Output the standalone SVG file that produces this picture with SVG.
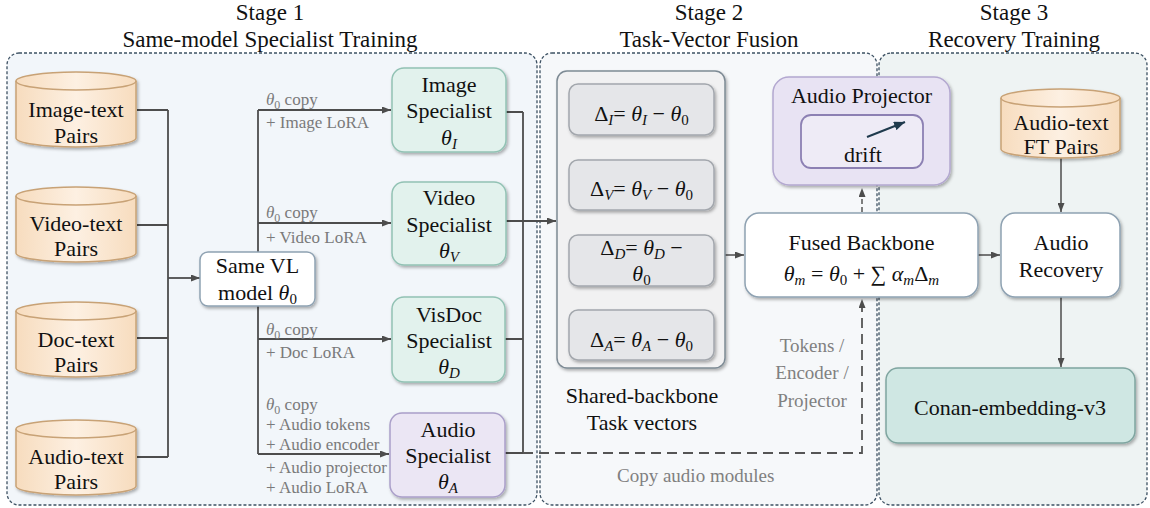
<svg xmlns="http://www.w3.org/2000/svg" width="1150" height="508" viewBox="0 0 1150 508">
<defs>
<linearGradient id="peach" x1="0" x2="1" y1="0" y2="0">
<stop offset="0" stop-color="#f7dcbe"/><stop offset="0.5" stop-color="#fdf0e2"/><stop offset="1" stop-color="#f7dcbe"/>
</linearGradient>
<filter id="sh" x="-10%" y="-10%" width="125%" height="130%">
<feDropShadow dx="1.5" dy="2" stdDeviation="1.5" flood-color="#000" flood-opacity="0.3"/>
</filter>
<marker id="ar" markerUnits="userSpaceOnUse" markerWidth="9" markerHeight="7" refX="9" refY="3.5" orient="auto">
<path d="M0,0 L9,3.5 L0,7 z" fill="#4d4d4d"/>
</marker>
<marker id="arn" markerUnits="userSpaceOnUse" markerWidth="11" markerHeight="9" refX="11" refY="4.5" orient="auto">
<path d="M0,0 L11,4.5 L0,9 z" fill="#1f3a4d"/>
</marker>
</defs>
<g id="panels" stroke="#3d5163" stroke-width="1.3" stroke-dasharray="3 2">
<rect x="7" y="53" width="530" height="452" rx="12" fill="#f2f6fa"/>
<rect x="540" y="53" width="337" height="452" rx="12" fill="#f6f8fa"/>
<rect x="879" y="53" width="268" height="452" rx="12" fill="#eef3f3"/>
</g>
<g id="titles" font-size="23" fill="#111" text-anchor="middle">
<text font-family="Liberation Serif" x="270" y="20">Stage 1</text>
<text font-family="Liberation Serif" x="270" y="47">Same-model Specialist Training</text>
<text font-family="Liberation Serif" x="709" y="20">Stage 2</text>
<text font-family="Liberation Serif" x="709" y="47">Task-Vector Fusion</text>
<text font-family="Liberation Serif" x="1014" y="20">Stage 3</text>
<text font-family="Liberation Serif" x="1014" y="47">Recovery Training</text>
</g>
<g id="connectors" fill="none" stroke="#4d4d4d" stroke-width="1.8">
<path d="M137,110 H168 M137,225 H168 M137,338 H168 M137,457 H168 M168,110 V457"/>
<path d="M168,278 H200" marker-end="url(#ar)"/>
<path d="M258,110 V454"/>
<path d="M258,110 H391" marker-end="url(#ar)"/>
<path d="M258,223 H391" marker-end="url(#ar)"/>
<path d="M258,339 H391" marker-end="url(#ar)"/>
<path d="M258,454 H389" marker-end="url(#ar)"/>
<path d="M506,112 H523 M505,339 H523 M505,453 H523 M523,112 V453"/>
<path d="M506,221 H556" marker-end="url(#ar)"/>
<path d="M725,255 H744" stroke-width="1.5" marker-end="url(#ar)"/>
<path d="M978,255 H1000" stroke-width="1.5" marker-end="url(#ar)"/>
<path d="M1061,158 V212" stroke-width="1.5" marker-end="url(#ar)"/>
<path d="M1061,297 V367" stroke-width="1.5" marker-end="url(#ar)"/>
<path d="M523,453 H862 V299" stroke="#555" stroke-dasharray="10 6" marker-end="url(#ar)"/>
<path d="M862,212 V188" stroke="#555" stroke-width="1.5" stroke-dasharray="5 3" marker-end="url(#ar)"/>
</g>
<g id="edge-labels" font-size="17" fill="#7a7a7a">
<text font-family="Liberation Serif" x="266" y="105"><tspan font-style="italic">θ</tspan><tspan font-size="12" dy="4">0</tspan><tspan dy="-4"> copy</tspan></text>
<text font-family="Liberation Serif" x="266" y="128">+ Image LoRA</text>
<text font-family="Liberation Serif" x="266" y="218"><tspan font-style="italic">θ</tspan><tspan font-size="12" dy="4">0</tspan><tspan dy="-4"> copy</tspan></text>
<text font-family="Liberation Serif" x="266" y="243">+ Video LoRA</text>
<text font-family="Liberation Serif" x="266" y="335"><tspan font-style="italic">θ</tspan><tspan font-size="12" dy="4">0</tspan><tspan dy="-4"> copy</tspan></text>
<text font-family="Liberation Serif" x="266" y="358">+ Doc LoRA</text>
<text font-family="Liberation Serif" x="266" y="410"><tspan font-style="italic">θ</tspan><tspan font-size="12" dy="4">0</tspan><tspan dy="-4"> copy</tspan></text>
<text font-family="Liberation Serif" x="266" y="430">+ Audio tokens</text>
<text font-family="Liberation Serif" x="266" y="450">+ Audio encoder</text>
<text font-family="Liberation Serif" x="266" y="473">+ Audio projector</text>
<text font-family="Liberation Serif" x="266" y="493">+ Audio LoRA</text>
<text font-family="Liberation Serif" x="617" y="482" font-size="19" fill="#808080">Copy audio modules</text>
<text font-family="Liberation Serif" x="812" y="352" font-size="19" fill="#808080" text-anchor="middle">Tokens /</text>
<text font-family="Liberation Serif" x="812" y="379" font-size="19" fill="#808080" text-anchor="middle">Encoder /</text>
<text font-family="Liberation Serif" x="812" y="407" font-size="19" fill="#808080" text-anchor="middle">Projector</text>
</g>
<g id="nodes" font-size="22" fill="#111" text-anchor="middle">
<g id="image-text-pairs">
<g filter="url(#sh)" fill="url(#peach)" stroke="#c8a276" stroke-width="1.5">
<path d="M16,81 A60,9 0 0 1 136,81 V138 A60,9 0 0 1 16,138 Z"/>
<path fill="none" d="M16,81 A60,9 0 0 0 136,81"/>
</g>
<text font-family="Liberation Serif" x="76" y="117">Image-text</text>
<text font-family="Liberation Serif" x="76" y="143">Pairs</text>
</g>
<g id="video-text-pairs">
<g filter="url(#sh)" fill="url(#peach)" stroke="#c8a276" stroke-width="1.5">
<path d="M16,196 A60,9 0 0 1 136,196 V253 A60,9 0 0 1 16,253 Z"/>
<path fill="none" d="M16,196 A60,9 0 0 0 136,196"/>
</g>
<text font-family="Liberation Serif" x="76" y="231">Video-text</text>
<text font-family="Liberation Serif" x="76" y="256">Pairs</text>
</g>
<g id="doc-text-pairs">
<g filter="url(#sh)" fill="url(#peach)" stroke="#c8a276" stroke-width="1.5">
<path d="M16,311 A60,9 0 0 1 136,311 V368 A60,9 0 0 1 16,368 Z"/>
<path fill="none" d="M16,311 A60,9 0 0 0 136,311"/>
</g>
<text font-family="Liberation Serif" x="76" y="347">Doc-text</text>
<text font-family="Liberation Serif" x="76" y="372">Pairs</text>
</g>
<g id="audio-text-pairs">
<g filter="url(#sh)" fill="url(#peach)" stroke="#c8a276" stroke-width="1.5">
<path d="M16,429 A60,9 0 0 1 136,429 V486 A60,9 0 0 1 16,486 Z"/>
<path fill="none" d="M16,429 A60,9 0 0 0 136,429"/>
</g>
<text font-family="Liberation Serif" x="76" y="464">Audio-text</text>
<text font-family="Liberation Serif" x="76" y="489">Pairs</text>
</g>
<g id="same-vl">
<rect x="200" y="252" width="115" height="54" rx="8" fill="#fff" stroke="#8fa2b2" stroke-width="1.5" filter="url(#sh)"/>
<text font-family="Liberation Serif" x="257.5" y="273">Same VL</text>
<text font-family="Liberation Serif" x="257.5" y="300">model <tspan font-style="italic">θ</tspan><tspan font-size="15" dy="4">0</tspan></text>
</g>
<g id="image-specialist">
<rect x="392" y="68" width="114" height="84" rx="12" fill="#e2f2ed" stroke="#92c2b4" stroke-width="1.5" filter="url(#sh)"/>
<text font-family="Liberation Serif" x="449" y="92">Image</text>
<text font-family="Liberation Serif" x="449" y="118">Specialist</text>
<text font-family="Liberation Serif" x="449" y="145"><tspan font-style="italic">θ</tspan><tspan font-style="italic" font-size="15" dy="4">I</tspan></text>
</g>
<g id="video-specialist">
<rect x="392" y="182" width="114" height="83" rx="12" fill="#e2f2ed" stroke="#92c2b4" stroke-width="1.5" filter="url(#sh)"/>
<text font-family="Liberation Serif" x="449" y="205">Video</text>
<text font-family="Liberation Serif" x="449" y="232">Specialist</text>
<text font-family="Liberation Serif" x="449" y="258"><tspan font-style="italic">θ</tspan><tspan font-style="italic" font-size="15" dy="4">V</tspan></text>
</g>
<g id="visdoc-specialist">
<rect x="392" y="297" width="113" height="85" rx="12" fill="#e2f2ed" stroke="#92c2b4" stroke-width="1.5" filter="url(#sh)"/>
<text font-family="Liberation Serif" x="449" y="322">VisDoc</text>
<text font-family="Liberation Serif" x="449" y="348">Specialist</text>
<text font-family="Liberation Serif" x="449" y="374"><tspan font-style="italic">θ</tspan><tspan font-style="italic" font-size="15" dy="4">D</tspan></text>
</g>
<g id="audio-specialist">
<rect x="390" y="413" width="115" height="84" rx="12" fill="#ebe6f4" stroke="#aa9fc9" stroke-width="1.5" filter="url(#sh)"/>
<text font-family="Liberation Serif" x="448" y="437">Audio</text>
<text font-family="Liberation Serif" x="448" y="463">Specialist</text>
<text font-family="Liberation Serif" x="448" y="489"><tspan font-style="italic">θ</tspan><tspan font-style="italic" font-size="15" dy="4">A</tspan></text>
</g>
<g id="task-vectors">
<rect x="557" y="71" width="168" height="297" rx="10" fill="#f1f1f2" stroke="#7d8a94" stroke-width="1.5" filter="url(#sh)"/>
<g fill="#e5e6e9" stroke="#a3a7ad" stroke-width="1.5" filter="url(#sh)">
<rect x="569" y="84" width="145" height="51" rx="9"/>
<rect x="569" y="160" width="145" height="50" rx="9"/>
<rect x="569" y="235" width="145" height="51" rx="9"/>
<rect x="569" y="310" width="145" height="50" rx="9"/>
</g>
<text font-family="Liberation Serif" x="641.5" y="121">Δ<tspan font-style="italic" font-size="15" dy="4">I</tspan><tspan dy="-4">= </tspan><tspan font-style="italic">θ</tspan><tspan font-style="italic" font-size="15" dy="4">I</tspan><tspan dy="-4"> − </tspan><tspan font-style="italic">θ</tspan><tspan font-size="15" dy="4">0</tspan></text>
<text font-family="Liberation Serif" x="641.5" y="196">Δ<tspan font-style="italic" font-size="15" dy="4">V</tspan><tspan dy="-4">= </tspan><tspan font-style="italic">θ</tspan><tspan font-style="italic" font-size="15" dy="4">V</tspan><tspan dy="-4"> − </tspan><tspan font-style="italic">θ</tspan><tspan font-size="15" dy="4">0</tspan></text>
<text font-family="Liberation Serif" x="641.5" y="255">Δ<tspan font-style="italic" font-size="15" dy="4">D</tspan><tspan dy="-4">= </tspan><tspan font-style="italic">θ</tspan><tspan font-style="italic" font-size="15" dy="4">D</tspan><tspan dy="-4"> −</tspan></text>
<text font-family="Liberation Serif" x="641.5" y="281"><tspan font-style="italic">θ</tspan><tspan font-size="15" dy="4">0</tspan></text>
<text font-family="Liberation Serif" x="641.5" y="347">Δ<tspan font-style="italic" font-size="15" dy="4">A</tspan><tspan dy="-4">= </tspan><tspan font-style="italic">θ</tspan><tspan font-style="italic" font-size="15" dy="4">A</tspan><tspan dy="-4"> − </tspan><tspan font-style="italic">θ</tspan><tspan font-size="15" dy="4">0</tspan></text>
<text font-family="Liberation Serif" x="642" y="403">Shared-backbone</text>
<text font-family="Liberation Serif" x="642" y="430">Task vectors</text>
</g>
<g id="audio-projector">
<rect x="773" y="77" width="177" height="108" rx="16" fill="#e8e3f3" stroke="#b3a8d0" stroke-width="1.5" filter="url(#sh)"/>
<text font-family="Liberation Serif" x="861.5" y="103">Audio Projector</text>
<rect x="801" y="115" width="122" height="53" rx="10" fill="#eeebf6" stroke="#8c80b3" stroke-width="1.8"/>
<path d="M867,137 L905,122" stroke="#1f3a4d" stroke-width="2" fill="none" marker-end="url(#arn)"/>
<text font-family="Liberation Serif" x="863" y="162">drift</text>
</g>
<g id="fused-backbone">
<rect x="745" y="213" width="233" height="84" rx="14" fill="#fff" stroke="#8fa2b2" stroke-width="1.5" filter="url(#sh)"/>
<text font-family="Liberation Serif" x="861.5" y="250">Fused Backbone</text>
<text font-family="Liberation Serif" x="861.5" y="281"><tspan font-style="italic">θ</tspan><tspan font-style="italic" font-size="15" dy="4">m</tspan><tspan dy="-4"> = </tspan><tspan font-style="italic">θ</tspan><tspan font-size="15" dy="4">0</tspan><tspan dy="-4"> + ∑ </tspan><tspan font-style="italic">α</tspan><tspan font-style="italic" font-size="15" dy="4">m</tspan><tspan dy="-4">Δ</tspan><tspan font-style="italic" font-size="15" dy="4">m</tspan></text>
</g>
<g id="audio-ft-pairs">
<g filter="url(#sh)" fill="url(#peach)" stroke="#c8a276" stroke-width="1.5">
<path d="M1001,98 A59.5,9 0 0 1 1120,98 V149 A59.5,9 0 0 1 1001,149 Z"/>
<path fill="none" d="M1001,98 A59.5,9 0 0 0 1120,98"/>
</g>
<text font-family="Liberation Serif" x="1061" y="130">Audio-text</text>
<text font-family="Liberation Serif" x="1061" y="154">FT Pairs</text>
</g>
<g id="audio-recovery">
<rect x="1001" y="213" width="119" height="84" rx="14" fill="#fff" stroke="#8fa2b2" stroke-width="1.5" filter="url(#sh)"/>
<text font-family="Liberation Serif" x="1061" y="250">Audio</text>
<text font-family="Liberation Serif" x="1061" y="277">Recovery</text>
</g>
<g id="conan">
<rect x="886" y="368" width="249" height="75" rx="12" fill="#cfe7e3" stroke="#7fa5a0" stroke-width="1.5" filter="url(#sh)"/>
<text font-family="Liberation Serif" x="1010" y="415">Conan-embedding-v3</text>
</g>
</g>
</svg>
